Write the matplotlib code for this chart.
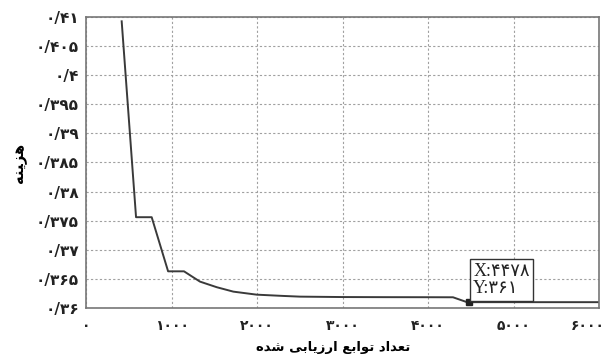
import matplotlib
matplotlib.use("Agg")
import matplotlib.pyplot as plt
from matplotlib.transforms import ScaledTranslation

# cost vs. number of function evaluations
evals = [417, 585, 768, 960, 1146, 1230, 1333, 1529, 1723, 1996, 2308, 2503,
         3000, 3500, 4000, 4292, 4456, 4478, 6000]
cost = [0.40926, 0.3756, 0.3756, 0.3663, 0.3663, 0.3655, 0.36453, 0.36357,
        0.36281, 0.36229, 0.36207, 0.36195, 0.36188, 0.36186, 0.36185,
        0.36184, 0.3610, 0.3610, 0.3610]

marker_x = 4478
marker_y = 0.361

x_ticks = [0, 1000, 2000, 3000, 4000, 5000, 6000]
x_labels = ["۰", "۱۰۰۰", "۲۰۰۰", "۳۰۰۰", "۴۰۰۰", "۵۰۰۰", "۶۰۰۰"]
y_ticks = [0.36, 0.365, 0.37, 0.375, 0.38, 0.385, 0.39, 0.395, 0.4, 0.405, 0.41]
y_labels = ["۰/۳۶", "۰/۳۶۵", "۰/۳۷", "۰/۳۷۵", "۰/۳۸", "۰/۳۸۵",
            "۰/۳۹", "۰/۳۹۵", "۰/۴", "۰/۴۰۵", "۰/۴۱"]

# Persian labels written in presentation forms, visual (left-to-right) order
y_title = "\uFEEA\uFEE8\uFEF4\uFEB0\uFEEB"  # هزینه
x_title = ("\uFEE9\uFEAA\uFEB7 "                          # شده
           "\uFEF0\uFE91\uFE8E\uFEF3\uFEAF\uFEAD\uFE8D "  # ارزیابی
           "\uFECA\uFE91\uFE8D\uFEEE\uFE97 "              # توابع
           "\uFEA9\uFE8D\uFEAA\uFECC\uFE97")              # تعداد

fig = plt.figure(figsize=(6.11, 3.58), dpi=100)
ax = fig.add_axes([0.1408, 0.1397, 0.8396, 0.8128])

ax.plot(evals, cost, color="#3a3a3a", lw=1.4)
ax.plot([marker_x], [marker_y], marker="s", ms=4, color="#222222")

ax.set_xlim(0, 6000)
ax.set_ylim(0.36, 0.41)
ax.set_xticks(x_ticks)
ax.set_xticklabels(x_labels)
ax.set_yticks(y_ticks)
ax.set_yticklabels(y_labels)
ax.tick_params(length=0, colors="#222222")
ax.tick_params(axis="x", pad=8, labelsize=10)
ax.tick_params(axis="y", pad=5, labelsize=11)
for lab in ax.get_xticklabels() + ax.get_yticklabels():
    lab.set_fontweight("bold")
# last x label sits against the right edge, pull it in a little
last = ax.get_xticklabels()[-1]
last.set_transform(last.get_transform() + ScaledTranslation(-8 / 72, 0, fig.dpi_scale_trans))

ax.grid(True, ls=(0, (2, 2)), color="#a0a0a0", lw=0.8)
for sp in ax.spines.values():
    sp.set_color("#777777")
    sp.set_linewidth(1.2)

ax.set_ylabel(y_title, fontsize=10.5, fontweight="bold")
ax.yaxis.set_label_coords(-0.115, 0.5)
ax.set_xlabel(x_title, fontsize=9.5, fontweight="bold")
ax.xaxis.set_label_coords(0.482, -0.113)

ax.annotate("X:۴۴۷۸\nY:۳۶۱", xy=(marker_x, marker_y), xytext=(4530, 0.3619),
            fontsize=13, family=["Liberation Serif", "DejaVu Sans"],
            color="#222222", linespacing=1.0, va="bottom", ha="left",
            bbox=dict(boxstyle="square,pad=0.2", fc="white", ec="#333333", lw=1))

fig.savefig("out.png", dpi=100)
